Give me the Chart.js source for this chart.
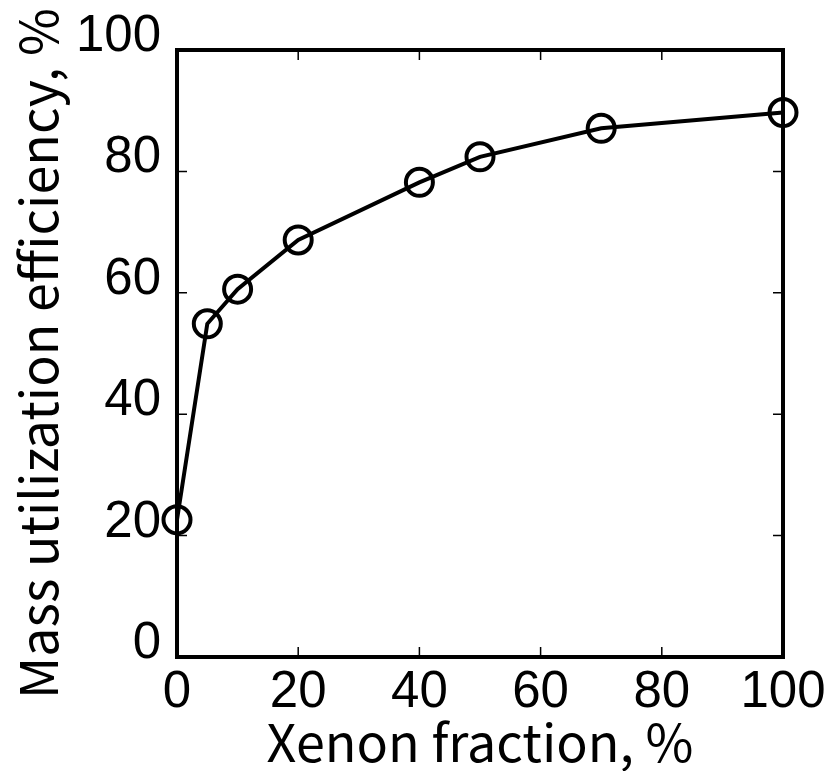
<!DOCTYPE html>
<html>
<head>
<meta charset="utf-8">
<script src="https://cdn.jsdelivr.net/npm/chart.js@4"></script>
<style>
  html, body { margin: 0; padding: 0; background: #ffffff; }
  #wrap { width: 835px; height: 771px; }
</style>
</head>
<body>
<div id="wrap"><canvas id="c" width="835" height="771"></canvas></div>
<script>
// Data
const xenonFraction = [0, 5, 10, 20, 40, 50, 70, 100];
const massUtilization = [22.6, 54.9, 60.6, 68.7, 78.2, 82.4, 87.1, 89.7];
const xTickValues = [0, 20, 40, 60, 80, 100];
const yTickValues = [0, 20, 40, 60, 80, 100];
const xTitle = 'Xenon fraction, %';
const yTitle = 'Mass utilization efficiency, %';

const points = xenonFraction.map((x, i) => ({ x: x, y: massUtilization[i] }));

const tickFont = { family: '"Liberation Sans", Arial, Helvetica, sans-serif', size: 51 };
const titleFont = { family: '"Noto Sans CJK JP", "Liberation Sans", sans-serif', size: 52, lineHeight: 1 };

const frameAndTicks = {
  id: 'frameAndTicks',
  afterDatasetsDraw(chart) {
    const ctx = chart.ctx;
    const a = chart.chartArea;
    const xs = chart.scales.x, ys = chart.scales.y;
    const len = 10;
    ctx.save();
    ctx.strokeStyle = '#000';
    ctx.lineWidth = 1.5;
    ctx.beginPath();
    xTickValues.forEach(v => {
      const px = xs.getPixelForValue(v);
      ctx.moveTo(px, a.bottom); ctx.lineTo(px, a.bottom - len);
      ctx.moveTo(px, a.top); ctx.lineTo(px, a.top + len);
    });
    yTickValues.forEach(v => {
      const py = ys.getPixelForValue(v);
      ctx.moveTo(a.left, py); ctx.lineTo(a.left + len, py);
      ctx.moveTo(a.right, py); ctx.lineTo(a.right - len, py);
    });
    ctx.stroke();
    ctx.lineWidth = 4;
    ctx.strokeRect(a.left, a.top, a.right - a.left, a.bottom - a.top);
    ctx.restore();
  }
};

new Chart(document.getElementById('c'), {
  type: 'line',
  data: {
    datasets: [{
      data: points,
      borderColor: '#000',
      borderWidth: 4,
      backgroundColor: 'rgba(0,0,0,0)',
      pointBackgroundColor: 'rgba(0,0,0,0)',
      pointBorderColor: '#000',
      pointBorderWidth: 4,
      pointRadius: 13.5,
      pointHoverRadius: 13.5,
      pointStyle: 'circle',
      tension: 0,
      fill: false,
      clip: false
    }]
  },
  options: {
    responsive: false,
    animation: false,
    devicePixelRatio: 1,
    layout: { padding: { top: 50, right: 52, left: 0, bottom: 0 } },
    plugins: { legend: { display: false }, tooltip: { enabled: false } },
    scales: {
      x: {
        type: 'linear',
        min: 0, max: 100,
        afterFit(s) { s.height = 114; },
        afterBuildTicks(s) { s.ticks = xTickValues.map(v => ({ value: v })); },
        grid: { display: false, drawTicks: false },
        border: { display: false },
        ticks: { color: '#000', font: tickFont, padding: 5, maxRotation: 0, autoSkip: false },
        title: { display: true, text: xTitle, color: '#000', font: titleFont, padding: { top: 0, bottom: 3 } }
      },
      y: {
        type: 'linear',
        min: 0, max: 100,
        afterFit(s) { s.width = 177; },
        afterBuildTicks(s) { s.ticks = yTickValues.map(v => ({ value: v })); },
        grid: { display: false, drawTicks: false },
        border: { display: false },
        ticks: { color: '#000', font: tickFont, padding: 16, labelOffset: -13, autoSkip: false },
        title: { display: true, text: yTitle, color: '#000', font: titleFont, padding: { top: 12, bottom: 0 } }
      }
    }
  },
  plugins: [frameAndTicks]
});
</script>
</body>
</html>
